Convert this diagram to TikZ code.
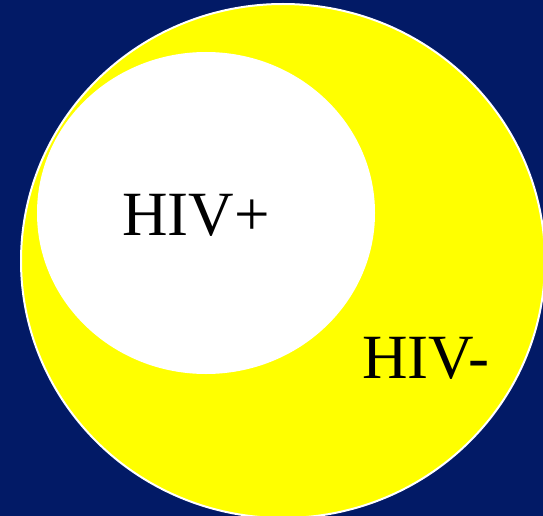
\documentclass[tikz,border=0pt]{standalone}
\usepackage{fontspec}
\setmainfont{Liberation Serif}
\usetikzlibrary{positioning}
\definecolor{navy}{RGB}{2,26,102}
\definecolor{hivyellow}{RGB}{255,255,0}

\begin{document}
\begin{tikzpicture}[x=1pt, y=-1pt, every node/.style={inner sep=0pt, anchor=base west, font=\fontsize{63}{70}\selectfont}]
  % frame of the slide, 543 x 516
  \useasboundingbox (0,0) rectangle (543,516);
  \clip (0,0) rectangle (543,516);
  \fill[navy] (0,0) rectangle (543,516);

  % whole population
  \filldraw[fill=hivyellow, draw=white, line width=2pt] (283,261) ellipse [x radius=262, y radius=257];
  % infected part
  \fill[white] (206,213) ellipse [x radius=169, y radius=161];

  % labels
  \node (pos) at (122,235) {HIV+};
  \node (neg) at (362,378) {HIV-};
\end{tikzpicture}
\end{document}
